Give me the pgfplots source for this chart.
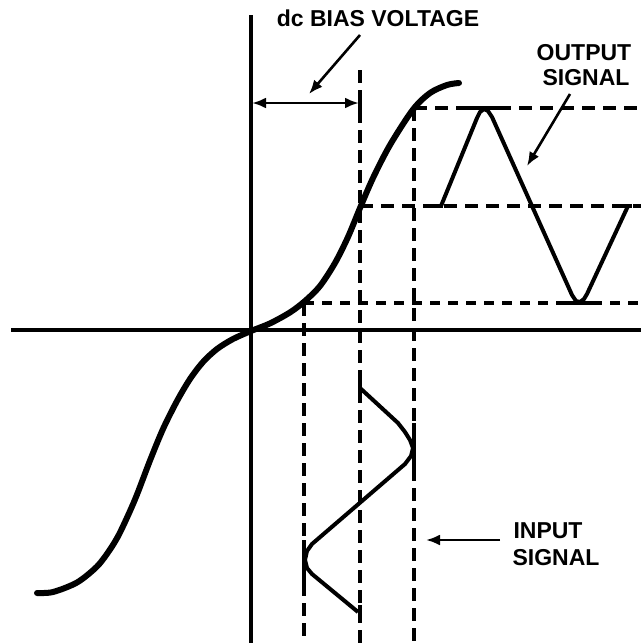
\documentclass[border=0pt]{standalone}
\usepackage{pgfplots}
\pgfplotsset{compat=1.18}
\usepackage{fontspec}
\setmainfont{Liberation Sans}
\usetikzlibrary{arrows.meta}
\newcommand{\lbl}{\fontsize{11.5}{12.5}\selectfont\bfseries}
\begin{document}
\begin{tikzpicture}
\begin{axis}[scale only axis, width=320.5pt, height=321.5pt,
  xmin=0, xmax=641, ymin=0, ymax=643, y dir=reverse, hide axis, clip=false]
% axes
\addplot[black, line width=2pt] coordinates {(251,15) (251,643)};
\addplot[black, line width=2pt] coordinates {(11,330) (641,330)};
% dashed verticals
\addplot[black, line width=1.6pt, dash pattern=on 6.5pt off 3.5pt] coordinates {(304,303) (304,643)};
\addplot[black, line width=1.6pt, dash pattern=on 6.5pt off 3.5pt] coordinates {(360,70) (360,643)};
\addplot[black, line width=1.6pt, dash pattern=on 6.5pt off 3.5pt] coordinates {(414,108) (414,643)};
% dashed horizontals
\addplot[black, line width=1.6pt, dash pattern=on 6.5pt off 4pt] coordinates {(414,108) (641,108)};
\addplot[black, line width=1.6pt, dash pattern=on 6.5pt off 4pt] coordinates {(360,206) (641,206)};
\addplot[black, line width=1.6pt, dash pattern=on 5pt off 4pt] coordinates {(304,303) (641,303)};
% transfer curve
\addplot[black, line width=3pt, smooth, line cap=round] coordinates {
(37,593) (53,592) (77,582.5) (97,566.5) (110,549.5) (120,532.5) (135,499.5)
(150,460.5) (163,429) (177,401) (190,379) (203,362) (217,349) (233,339)
(251,331) (270,323.4) (290,312.4) (305,301) (320,286) (335,263) (348,237)
(360,208) (373,178) (390,145) (413,109.5) (430,93) (447,85) (459,83)};
% output signal
\addplot[black, line width=2pt, line join=round] coordinates {
(441,206) (477,118) (480,112) (484,109) (488,111) (492,117) (572,295)
(576,301) (580,302) (584,299) (587,294) (628,206)};
\addplot[black, line width=1.8pt] coordinates {(432,206) (443,206)};
\addplot[black, line width=1.8pt] coordinates {(625,206) (632,206)};
\addplot[black, line width=1.8pt] coordinates {(467,108) (498,108)};
\addplot[black, line width=1.8pt] coordinates {(566,303) (592,303)};
% input signal
\addplot[black, line width=2pt, line join=round] coordinates {
(360,388) (398,423) (405,432) (410,440) (413,448) (411,456) (405,464)
(312,544) (307,551) (305,560) (307,568) (312,574) (358,612)};
\addplot[black, line width=1.8pt] coordinates {(360,380) (360,396)};
\addplot[black, line width=1.8pt] coordinates {(360,605) (360,623)};
\addplot[black, line width=1.8pt] coordinates {(414,423) (414,470)};
\addplot[black, line width=1.8pt] coordinates {(304,540) (304,588)};
% dc bias arrows
\addplot[black, line width=1.4pt, {Latex[length=7pt,width=5.5pt]}-{Latex[length=7pt,width=5.5pt]}] coordinates {(252,103) (359,103)};
\addplot[black, line width=1.8pt] coordinates {(360,94) (360,112)};
\addplot[black, line width=1.3pt, -{Latex[length=7pt,width=5.5pt]}] coordinates {(360,35) (309,94)};
% output arrow
\addplot[black, line width=1.3pt, -{Latex[length=7pt,width=5.5pt]}] coordinates {(570,94) (527,166)};
% input arrow
\addplot[black, line width=1.3pt, -{Latex[length=7pt,width=5.5pt]}] coordinates {(500,540) (426,540)};
% texts
\node[anchor=base, inner sep=0pt, font=\lbl] at (axis cs:378,26) {dc BIAS VOLTAGE};
\node[anchor=base, inner sep=0pt, font=\lbl] at (axis cs:584,60) {OUTPUT};
\node[anchor=base, inner sep=0pt, font=\lbl] at (axis cs:586,85) {SIGNAL};
\node[anchor=base, inner sep=0pt, font=\lbl] at (axis cs:548,538) {INPUT};
\node[anchor=base, inner sep=0pt, font=\lbl] at (axis cs:556,565) {SIGNAL};
\end{axis}
\pgfresetboundingbox
\path[use as bounding box] (current axis.south west) rectangle (current axis.north east);
\end{tikzpicture}
\end{document}
